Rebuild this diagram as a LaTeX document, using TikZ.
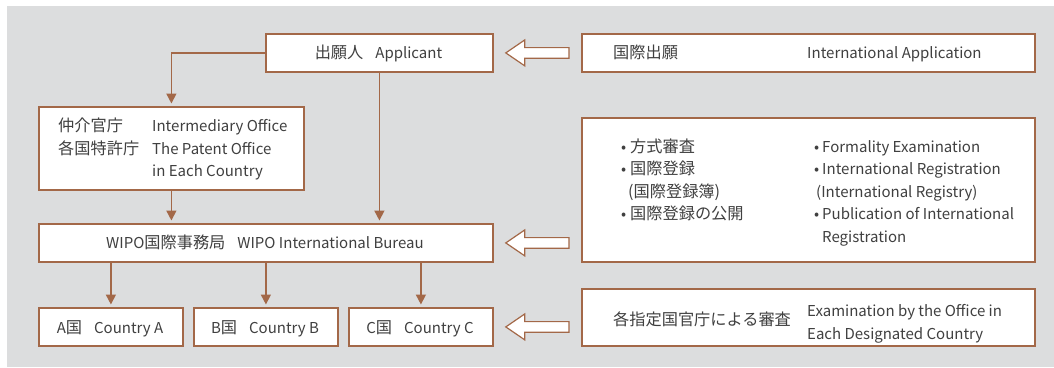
\documentclass[tikz,border=0pt]{standalone}
\usepackage{fontspec}
\setmainfont{Noto Sans CJK JP}
\usetikzlibrary{calc,arrows.meta}
\definecolor{bg}{RGB}{220,221,222}
\definecolor{brn}{RGB}{163,104,72}
\definecolor{txt}{RGB}{64,64,64}
\newcommand\jp[1]{{\fontsize{16.2}{22.5}\selectfont #1}}
\newcommand\hollowarrow[2]{%
  \draw[hollow] ($(#1.east)+(12,0)$) coordinate (t)
    -- ($(t)+(19,-13)$) -- ($(t)+(19,-5.3)$)
    -- ($(#2.west |- #1.east)+(-12,-5.3)$)
    -- ($(#2.west |- #1.east)+(-12,5.3)$)
    -- ($(t)+(19,5.3)$) -- ($(t)+(19,13)$) -- cycle;}
\begin{document}
\begin{tikzpicture}[x=1pt,y=-1pt,
  font=\fontsize{15}{22.5}\selectfont,
  box/.style={draw=brn, line width=1.8pt, fill=white, inner sep=0pt, anchor=north west},
  lbl/.style={text=txt, inner sep=0pt, anchor=base west},
  clbl/.style={text=txt, inner sep=0pt, anchor=base},
  conn/.style={draw=brn, line width=1.6pt, -{Triangle[width=10pt,length=10pt]}, shorten >=2.5pt},
  hollow/.style={draw=brn, line width=1.2pt, fill=white, line join=miter}]
\useasboundingbox (0,0) rectangle (1054,367);
\fill[bg] (7,6) rectangle (1054,367);

% boxes
\node[box, minimum width=227, minimum height=38] (app) at (265,33) {};
\node[box, minimum width=265, minimum height=83] (inter) at (38,106) {};
\node[box, minimum width=454, minimum height=38] (wipo) at (38,223) {};
\node[box, minimum width=144, minimum height=38] (ca) at (38,307) {};
\node[box, minimum width=144, minimum height=38] (cb) at (193,307) {};
\node[box, minimum width=144, minimum height=38] (cc) at (348,307) {};
\node[box, minimum width=453, minimum height=38] (r1) at (581,33) {};
\node[box, minimum width=453, minimum height=144] (r2) at (581,117) {};
\node[box, minimum width=453, minimum height=57] (r3) at (581,288) {};

% texts
\node[clbl] (tapp) at (378.5,58.7) {\jp{出願人}\hspace{12pt}Applicant};
\node[lbl] (tr1a) at (613,58.7) {\jp{国際出願}};
\node[lbl] (tr1b) at (807,58.7) {International Application};

\node[lbl] (ti1) at (58,131.5) {\jp{仲介官庁}};
\node[lbl] (ti2) at (58,154) {\jp{各国特許庁}};
\node[lbl] (ti3) at (152,131.5) {Intermediary Office};
\node[lbl] (ti4) at (152,154) {The Patent Office};
\node[lbl] (ti5) at (152,176.5) {in Each Country};

\node[clbl] (twipo) at (265,248.5) {WIPO\jp{国際事務局}\hspace{12pt}WIPO International Bureau};
\node[clbl] (tca) at (110,333) {A\jp{国}\hspace{12pt}Country A};
\node[clbl] (tcb) at (265,333) {B\jp{国}\hspace{12pt}Country B};
\node[clbl] (tcc) at (420,333) {C\jp{国}\hspace{12pt}Country C};

\node[lbl] (tj1) at (630,152) {\llap{•\hspace{4pt}}\jp{方式審査}};
\node[lbl] (tj2) at (630,174.5) {\llap{•\hspace{4pt}}\jp{国際登録}};
\node[lbl] (tj3) at (628,197) {\jp{(国際登録簿)}};
\node[lbl] (tj4) at (630,219.5) {\llap{•\hspace{4pt}}\jp{国際登録の公開}};
\node[lbl] (te1) at (822,152) {\llap{•\hspace{3pt}}Formality Examination};
\node[lbl] (te2) at (822,174.5) {\llap{•\hspace{3pt}}International Registration};
\node[lbl] (te3) at (816,197) {(International Registry)};
\node[lbl] (te4) at (822,219.5) {\llap{•\hspace{3pt}}Publication of International};
\node[lbl] (te5) at (822,242) {Registration};

\node[lbl] (tr3a) at (613,325.5) {\jp{各指定国官庁による審査}};
\node[lbl] (tr3b) at (807,316.5) {Examination by the Office in};
\node[lbl] (tr3c) at (807,339) {Each Designated Country};

% connectors
\draw[conn] (app.west) -| (inter.north);
\draw[conn] (app.south) -- (app.south |- wipo.north);
\draw[conn] (inter.south) -- (inter.south |- wipo.north);
\draw[conn] (wipo.south -| ca.north) -- (ca.north);
\draw[conn] (wipo.south -| cb.north) -- (cb.north);
\draw[conn] (wipo.south -| cc.north) -- (cc.north);

% hollow arrows
\hollowarrow{app}{r1}
\hollowarrow{wipo}{r2}
\hollowarrow{cc}{r3}
\end{tikzpicture}
\end{document}
